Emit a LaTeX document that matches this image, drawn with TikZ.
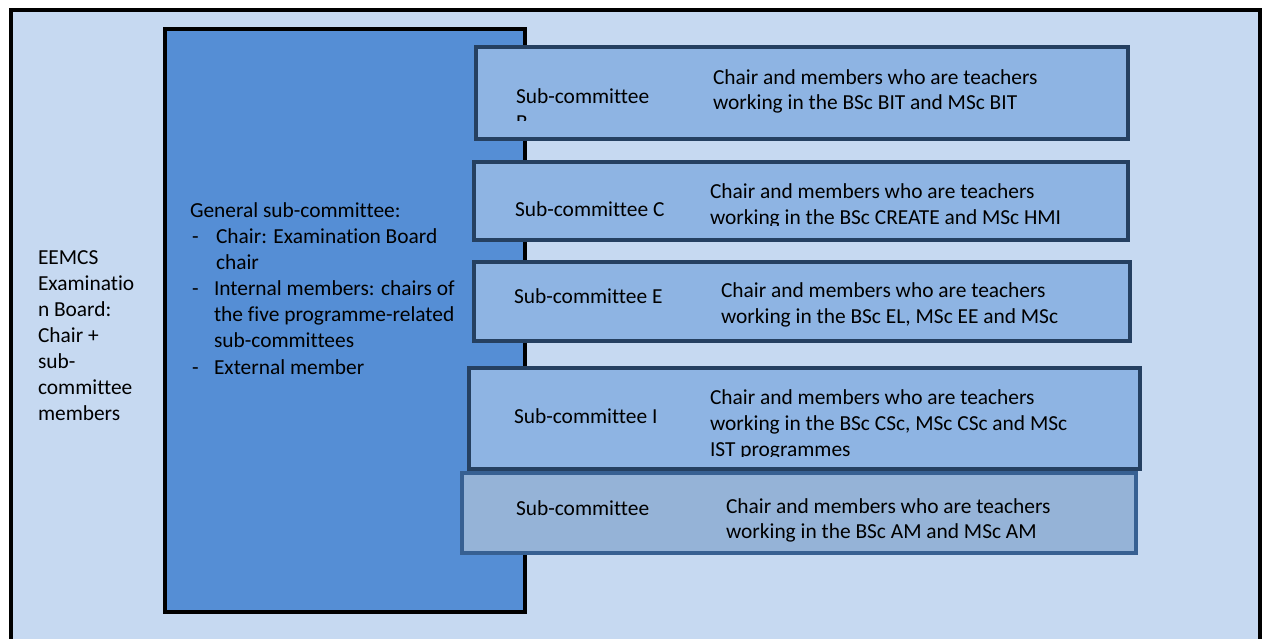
\documentclass[tikz,border=0pt]{standalone}
\usepackage{fontspec}
\setmainfont{Carlito}[RawFeature=-liga]
\definecolor{bgblue}{HTML}{C6D9F1}
\definecolor{bigblue}{HTML}{558ED5}
\definecolor{subfill}{HTML}{8EB4E3}
\definecolor{subedge}{HTML}{254061}
\definecolor{amfill}{HTML}{95B3D7}
\definecolor{amedge}{HTML}{376092}
\begin{document}
\begin{tikzpicture}[x=1pt,y=-1pt,
  txt/.style={anchor=base west, inner sep=0pt, outer sep=0pt, font=\fontsize{21.4}{25.6}\selectfont, text=black},
  subbox/.style={draw=subedge, fill=subfill, line width=4pt},
  ambox/.style={draw=amedge, fill=amfill, line width=4pt}]
\useasboundingbox (0,0) rectangle (1263,639);
\clip (0,0) rectangle (1263,639);
\fill[white] (0,0) rectangle (1263,639);
% outer frame
\draw[fill=bgblue, draw=black, line width=4pt] (11,10) rectangle (1260,680);
% left text
\node[txt] (l1) at (38,264) {EEMCS};
\node[txt] (l2) at (38,290) {Examinatio};
\node[txt] (l3) at (38,316) {n Board:};
\node[txt] (l4) at (38,342) {Chair +};
\node[txt] (l5) at (38,368) {sub-};
\node[txt] (l6) at (38,394) {committee};
\node[txt] (l7) at (38,420) {members};
% big box
\draw[fill=bigblue, draw=black, line width=4pt] (165,29) rectangle (525,612);
\node[txt] (g0) at (190,218) {General sub-committee:};
\node[txt] (g1d) at (192,243) {-};
\node[txt] (g1) at (216,243) {Chair: Examination Board};
\node[txt] (g1b) at (216,269) {chair};
\node[txt] (g2d) at (192,295) {-};
\node[txt] (g2) at (214,295) {Internal members: chairs of};
\node[txt] (g2b) at (214,321) {the five programme-related};
\node[txt] (g2c) at (214,347) {sub-committees};
\node[txt] (g3d) at (192,374) {-};
\node[txt] (g3) at (214,374) {External member};
% sub-committee B
\draw[subbox] (476,47) rectangle (1128,139);
\begin{scope}
\clip (480,51) rectangle (700,121);
\node[txt] (b0) at (516,104) {Sub-committee};
\node[txt] (b0b) at (516,130) {B};
\end{scope}
\node[txt] (b1) at (713,85) {Chair and members who are teachers};
\node[txt] (b2) at (713,110) {working in the BSc BIT and MSc BIT};
% sub-committee C
\draw[subbox] (474,162) rectangle (1128,240);
\node[txt] (c0) at (515,217) {Sub-committee C};
\begin{scope}
\clip (700,166) rectangle (1124,225.5);
\node[txt] (c1) at (710,199) {Chair and members who are teachers};
\node[txt] (c2) at (710,225) {working in the BSc CREATE and MSc HMI};
\end{scope}
% sub-committee E
\draw[subbox] (474,262) rectangle (1130,341);
\node[txt] (e0) at (514,303) {Sub-committee E};
\begin{scope}
\clip (700,266) rectangle (1126,332);
\node[txt] (e1) at (721,297) {Chair and members who are teachers};
\node[txt] (e2) at (721,323) {working in the BSc EL, MSc EE and MSc};
\end{scope}
% sub-committee I
\draw[subbox] (469,368) rectangle (1140,469);
\node[txt] (i0) at (514,423) {Sub-committee I};
\begin{scope}
\clip (700,372) rectangle (1136,456.5);
\node[txt] (i1) at (710,404) {Chair and members who are teachers};
\node[txt] (i2) at (710,430) {working in the BSc CSc, MSc CSc and MSc};
\node[txt] (i3) at (710,456) {IST programmes};
\end{scope}
% sub-committee AM
\draw[ambox] (462,473) rectangle (1136,553);
\node[txt] (a0) at (516,515) {Sub-committee};
\node[txt] (a1) at (726,513) {Chair and members who are teachers};
\node[txt] (a2) at (726,538) {working in the BSc AM and MSc AM};
\end{tikzpicture}
\end{document}
